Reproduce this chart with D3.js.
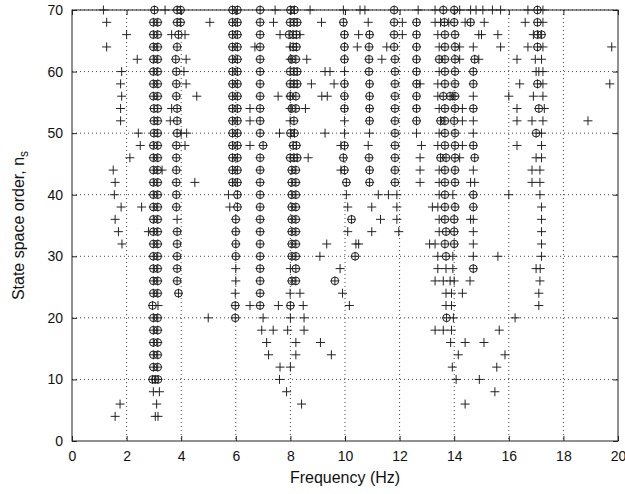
<!DOCTYPE html>
<html>
<head>
<meta charset="utf-8">
<script src="https://cdn.jsdelivr.net/npm/d3@7"></script>
<style>
  body { margin: 0; background: #fff; }
  svg { font-family: "Liberation Sans", Arial, sans-serif; }
</style>
</head>
<body>
<div class="chartHolder"></div>
<script>
// model orders (rows of the stabilisation diagram), top to bottom
var orders = [70, 68, 66, 64, 62, 60, 58, 56, 54, 52, 50, 48, 46, 44, 42, 40, 38, 36,
  34, 32, 30, 28, 26, 24, 22, 20, 18, 16, 14, 12, 10, 8, 6, 4];

// stable poles (drawn as circle + plus), Hz, one list per order
var stableFreqs = [
  [3.02, 3.85, 3.98, 5.88, 6.06, 6.89, 8.0, 8.15, 11.8, 13.6, 14.0, 17.05],
  [2.98, 3.14, 3.85, 3.98, 5.88, 6.06, 6.89, 7.99, 8.13, 8.25, 9.94, 11.8, 12.62, 13.64, 14.0, 14.6, 17.05],
  [2.98, 3.14, 3.9, 5.88, 6.06, 6.89, 7.95, 8.1, 8.22, 9.98, 10.9, 11.8, 12.62, 13.66, 14.03, 17.05, 17.2],
  [2.98, 3.14, 3.85, 5.88, 6.06, 6.89, 8.1, 8.22, 9.98, 10.88, 11.8, 12.62, 13.66, 14.03, 17.05],
  [2.98, 3.14, 3.8, 5.88, 6.06, 6.89, 8.05, 8.2, 9.98, 10.88, 11.83, 12.62, 13.45, 13.66, 14.03, 14.75],
  [2.98, 3.14, 3.82, 5.88, 6.06, 6.89, 7.99, 8.13, 8.25, 10.88, 11.83, 12.62, 13.66, 14.03, 14.7],
  [2.98, 3.14, 3.82, 5.88, 6.06, 6.89, 7.99, 8.13, 8.25, 9.98, 10.9, 11.83, 12.62, 13.66, 14.03, 14.7, 17.05],
  [2.98, 3.14, 3.82, 5.88, 6.06, 6.89, 8.0, 8.2, 9.98, 10.9, 11.83, 12.62, 13.6, 13.85, 14.03],
  [3.0, 3.14, 3.85, 5.88, 6.06, 6.89, 8.05, 8.2, 9.98, 10.9, 11.83, 12.62, 13.66, 14.03, 14.7, 17.1],
  [3.0, 3.14, 3.85, 5.88, 6.06, 6.89, 8.13, 10.9, 11.83, 12.62, 13.5, 13.66, 14.0],
  [3.0, 3.14, 3.85, 5.88, 6.06, 6.89, 8.0, 8.15, 11.83, 13.66, 14.03, 17.0],
  [2.98, 3.14, 3.82, 5.88, 6.06, 7.0, 8.1, 8.22, 9.98, 11.83, 13.66, 14.03, 14.7],
  [2.98, 3.14, 3.82, 5.88, 6.06, 6.89, 7.99, 8.13, 8.25, 9.94, 10.88, 11.83, 13.5, 13.7, 14.03, 14.75],
  [2.98, 3.14, 3.82, 5.88, 6.06, 6.89, 8.05, 8.2, 9.98, 10.9, 11.83, 13.66, 14.03],
  [2.98, 3.14, 3.82, 5.88, 6.06, 6.89, 8.05, 8.2, 10.05, 10.9, 11.83, 13.66, 14.03],
  [2.98, 3.14, 3.82, 6.06, 6.89, 8.05, 8.2, 13.66, 14.7],
  [2.98, 3.14, 3.82, 6.06, 6.89, 8.05, 8.2, 13.66, 14.03, 14.7],
  [2.98, 3.14, 6.0, 6.89, 8.05, 8.2, 10.24, 13.66, 14.0],
  [2.98, 3.14, 3.85, 6.0, 6.89, 8.05, 8.2, 13.7, 14.0],
  [2.98, 3.14, 3.85, 6.0, 6.89, 8.05, 8.2, 13.66, 14.0],
  [2.98, 3.14, 3.85, 6.0, 6.89, 8.05, 8.2, 10.37, 13.7],
  [2.98, 3.14, 3.85, 6.89, 8.2, 14.7],
  [2.98, 3.14, 3.85, 6.89, 8.05, 8.2, 9.63],
  [2.98, 3.14, 3.9, 6.89],
  [2.95, 5.98, 6.89, 8.0],
  [2.98, 3.14, 5.98, 13.72],
  [2.98, 3.14],
  [2.98, 3.14],
  [2.98, 3.14],
  [2.98, 3.14],
  [2.95, 3.05, 3.15],
  [],
  [],
  []
];

// poles that are not stable (plus only), Hz, one list per order
var otherFreqs = [
  [1.15, 3.41, 7.44, 8.72, 9.94, 10.55, 10.73, 12.68, 13.3, 14.2, 14.6, 14.8, 15.05, 15.4, 15.7, 16.7, 17.25],
  [1.27, 5.05, 7.38, 9.14, 10.85, 12.1, 13.3, 13.5, 13.8, 14.4, 15.1, 16.6, 17.25],
  [2.0, 3.65, 4.14, 7.62, 8.35, 10.5, 12.1, 13.4, 14.9, 15.0, 15.6, 16.9],
  [1.27, 6.7, 7.99, 10.45, 11.53, 13.45, 14.2, 14.7, 15.7, 16.7, 17.25, 19.77],
  [2.39, 4.18, 7.99, 8.6, 11.35, 14.2, 14.9, 16.3, 16.97, 17.2],
  [1.82, 4.1, 9.27, 9.45, 9.98, 13.45, 17.0, 17.1, 17.25],
  [1.78, 4.18, 8.77, 9.6, 12.75, 13.4, 16.4, 17.25, 19.7],
  [1.82, 4.57, 7.55, 7.99, 9.15, 9.35, 13.4, 13.95, 14.7, 16.0, 16.9, 17.25],
  [1.78, 3.65, 6.52, 7.99, 8.55, 13.45, 14.3, 16.3, 17.3],
  [1.78, 3.6, 6.52, 7.99, 9.98, 14.3, 14.7, 16.3, 16.85, 17.25, 18.9],
  [2.43, 4.0, 4.2, 7.6, 9.27, 9.98, 10.9, 12.62, 13.45, 14.7, 17.2],
  [2.5, 4.14, 6.52, 9.85, 10.85, 12.8, 13.4, 14.3, 16.3, 17.2],
  [2.12, 8.65, 12.75, 14.2, 17.0, 17.2],
  [1.51, 3.3, 9.85, 12.75, 13.45, 14.7, 16.85, 17.14],
  [1.58, 4.5, 12.75, 13.45, 14.6, 14.75, 16.85, 17.14],
  [1.55, 5.73, 10.05, 11.22, 11.59, 11.9, 13.45, 13.95, 16.0, 17.14],
  [1.8, 2.55, 5.78, 10.1, 10.98, 11.9, 13.2, 13.4, 17.2],
  [1.58, 3.85, 11.3, 11.9, 13.45, 14.6, 14.7, 17.2],
  [1.7, 2.8, 10.1, 10.98, 11.97, 13.45, 14.7, 17.2],
  [1.83, 9.33, 10.4, 10.5, 13.1, 13.3, 14.7, 17.2],
  [9.08, 13.4, 13.95, 14.7, 15.6, 17.2],
  [6.0, 8.0, 9.82, 13.4, 13.7, 13.95, 17.0, 17.15],
  [6.0, 13.3, 13.6, 13.85, 14.0, 14.58, 17.14],
  [5.98, 7.99, 8.35, 9.91, 13.7, 13.9, 14.3, 17.1],
  [3.15, 6.52, 7.56, 8.47, 10.16, 13.7, 13.9, 17.1],
  [4.99, 7.0, 8.0, 8.5, 13.97, 16.23],
  [6.95, 7.37, 7.9, 8.5, 13.3, 13.6, 13.9, 15.65],
  [7.13, 8.2, 9.1, 13.87, 14.4, 15.09],
  [7.2, 8.2, 9.5, 14.15, 15.86],
  [7.62, 8.0, 13.93, 15.56],
  [7.6, 14.07, 14.92],
  [2.98, 3.2, 7.86, 15.49],
  [1.76, 3.1, 8.41, 14.4],
  [1.58, 3.05, 3.15]
];

var xTicks = [0, 2, 4, 6, 8, 10, 12, 14, 16, 18, 20];
var yTicks = [0, 10, 20, 30, 40, 50, 60, 70];

var W = 625, H = 494;
var margin = { left: 72, right: 7, top: 10, bottom: 53 };
var width = W - margin.left - margin.right;
var height = H - margin.top - margin.bottom;

var svg = d3.select(".chartHolder").append("svg")
  .attr("width", W)
  .attr("height", H);

var g = svg.append("g")
  .attr("transform", "translate(" + margin.left + "," + margin.top + ")");

var x = d3.scaleLinear().domain([0, 20]).range([0, width]);
var y = d3.scaleLinear().domain([0, 70]).range([height, 0]);

// dotted grid
g.append("g").selectAll("line").data(xTicks.slice(1, -1)).enter().append("line")
  .attr("x1", d => x(d)).attr("x2", d => x(d))
  .attr("y1", 0).attr("y2", height)
  .attr("stroke", "#444").attr("stroke-width", 1)
  .attr("stroke-dasharray", "1,3");
g.append("g").selectAll("line").data(yTicks.slice(1)).enter().append("line")
  .attr("y1", d => y(d)).attr("y2", d => y(d))
  .attr("x1", 0).attr("x2", width)
  .attr("stroke", "#444").attr("stroke-width", 1)
  .attr("stroke-dasharray", "1,3");

// axes (ticks pointing inwards like the original)
var xAxis = d3.axisBottom(x).tickValues(xTicks).tickSizeInner(-5).tickSizeOuter(0).tickPadding(10);
var yAxis = d3.axisLeft(y).tickValues(yTicks).tickSizeInner(-5).tickSizeOuter(0).tickPadding(9);

var gx = g.append("g").attr("transform", "translate(0," + height + ")").call(xAxis);
var gy = g.append("g").call(yAxis);
var gyR = g.append("g").attr("transform", "translate(" + width + ",0)")
  .call(d3.axisRight(y).tickValues(yTicks).tickSizeInner(-5).tickSizeOuter(0).tickFormat(""));
var gxT = g.append("g")
  .call(d3.axisTop(x).tickValues(xTicks).tickSizeInner(-5).tickSizeOuter(0).tickFormat(""));

[gx, gy, gyR, gxT].forEach(function (a) {
  a.select(".domain").remove();
  a.selectAll("line").attr("stroke", "#222");
  a.selectAll("text").attr("font-size", 14).attr("fill", "#111")
    .style("font-family", "'Liberation Sans', Arial, sans-serif");
});

// frame
g.append("rect")
  .attr("x", 0).attr("y", 0).attr("width", width).attr("height", height)
  .attr("fill", "none").attr("stroke", "#222").attr("stroke-width", 1);

// flatten pole lists
var allPoles = [];
var stablePoles = [];
orders.forEach(function (n, i) {
  stableFreqs[i].forEach(function (f) { stablePoles.push({ f: f, n: n }); allPoles.push({ f: f, n: n }); });
  otherFreqs[i].forEach(function (f) { allPoles.push({ f: f, n: n }); });
});

var arm = 4.5;

g.append("g").selectAll("path").data(allPoles).enter().append("path")
  .attr("d", d => "M" + (x(d.f) - arm) + "," + y(d.n) + "h" + (2 * arm) +
    "M" + x(d.f) + "," + (y(d.n) - arm) + "v" + (2 * arm))
  .attr("stroke", "#222").attr("stroke-width", 1).attr("fill", "none");

g.append("g").selectAll("circle").data(stablePoles).enter().append("circle")
  .attr("cx", d => x(d.f)).attr("cy", d => y(d.n)).attr("r", 3.8)
  .attr("stroke", "#222").attr("stroke-width", 1).attr("fill", "none");

// labels
svg.append("text")
  .attr("x", margin.left + width / 2).attr("y", 483)
  .attr("text-anchor", "middle").attr("font-size", 16).attr("fill", "#111")
  .text("Frequency (Hz)");

var yl = svg.append("text")
  .attr("transform", "translate(24," + (margin.top + height / 2) + ") rotate(-90)")
  .attr("text-anchor", "middle").attr("font-size", 16).attr("fill", "#111");
yl.append("tspan").text("State space order, n");
yl.append("tspan").attr("font-size", 12).attr("dy", 4).text("s");
</script>
</body>
</html>
